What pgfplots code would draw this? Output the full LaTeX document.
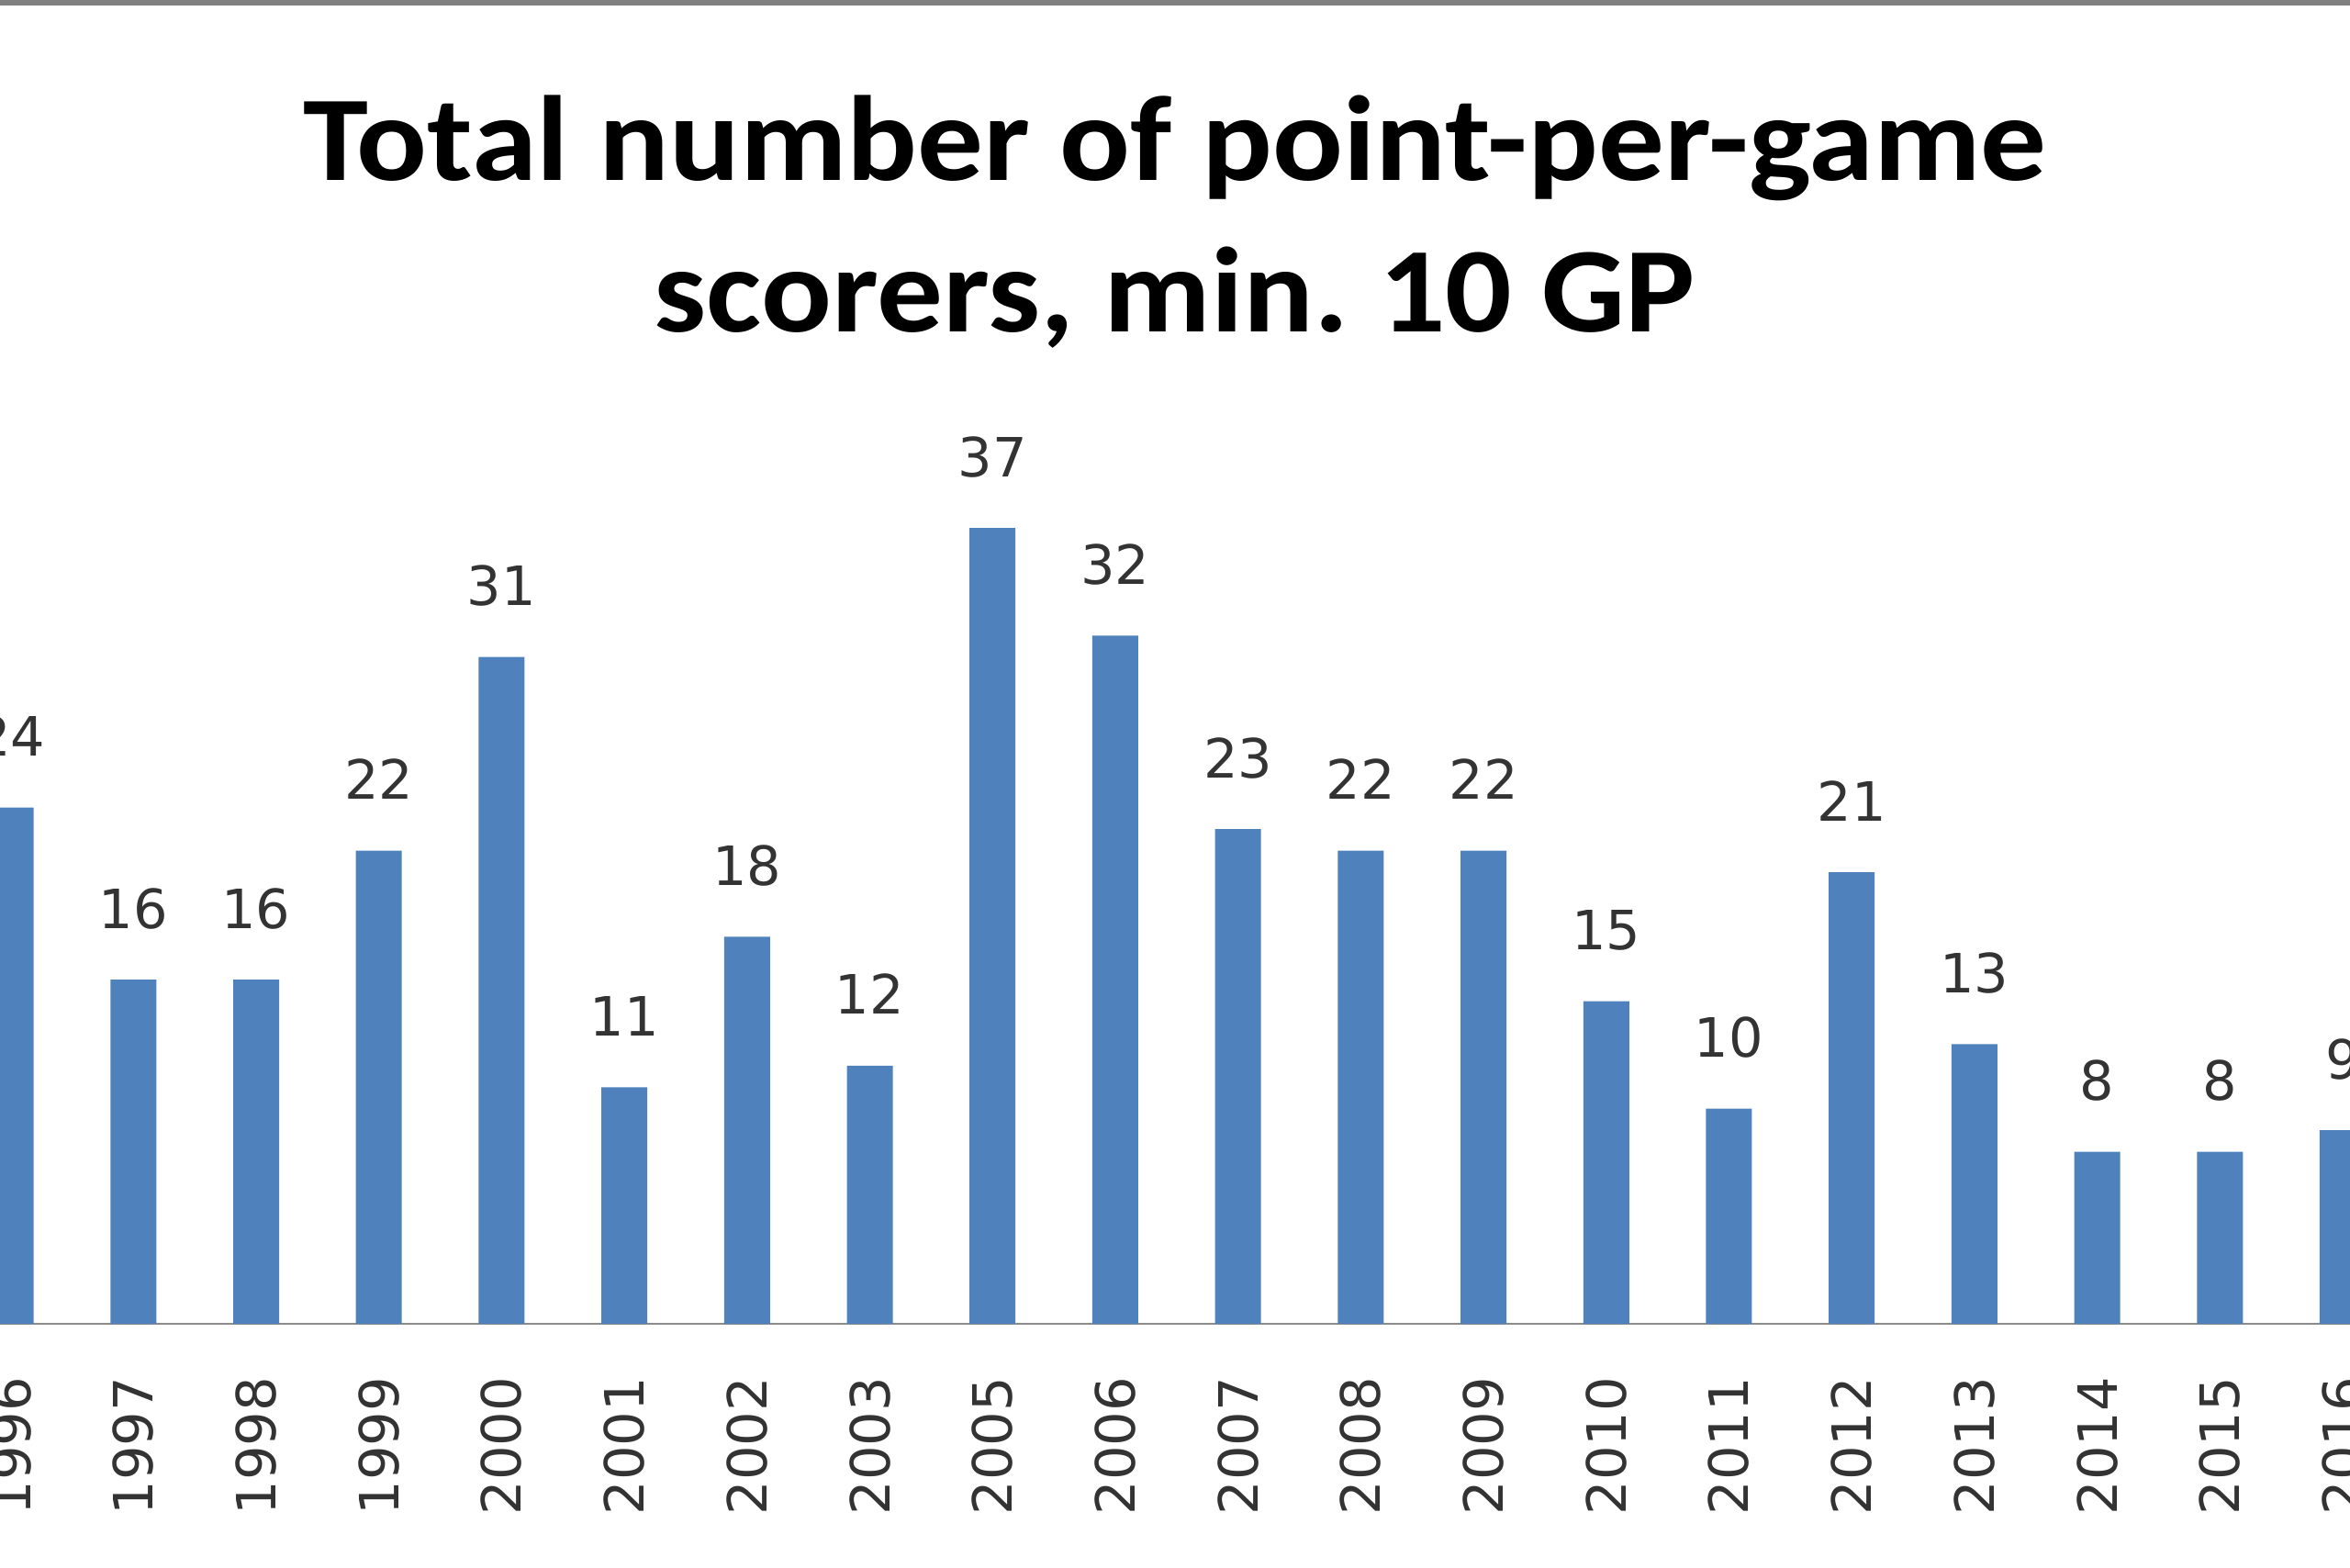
\documentclass[border=0pt]{standalone}
\usepackage{pgfplots}
\pgfplotsset{compat=1.18}
\usepackage{fontspec}
\setmainfont{DejaVu Sans}
\newfontfamily\titlefont[FakeStretch=1.085]{Carlito}
\definecolor{barblue}{HTML}{4F81BD}
\definecolor{labgray}{HTML}{333333}
\definecolor{axisgray}{HTML}{8C8C8C}
\begin{document}
\begin{tikzpicture}
\begin{axis}[
  name=ax,
  scale only axis,
  width=512pt, height=288.4pt,
  xmin=-0.0868, xmax=19.06,
  ymin=0, ymax=61.55,
  axis x line*=bottom,
  axis y line=none,
  x axis line style={color=axisgray, line width=0.5pt},
  ybar, bar width=10pt,
  xtick=data,
  xticklabels={1996,1997,1998,1999,2000,2001,2002,2003,2005,2006,2007,2008,2009,2010,2011,2012,2013,2014,2015,2016},
  major tick length=0pt,
  xticklabel style={rotate=90, anchor=east, inner sep=0pt, font=\fontsize{11.8}{14}\selectfont, text=labgray},
  xticklabel shift=11.4pt,
  nodes near coords,
  nodes near coords style={anchor=base, yshift=11.2pt, inner sep=0pt, font=\fontsize{11.8}{14}\selectfont, text=labgray},
  /pgf/number format/assume math mode=true,
]
\addplot[fill=barblue, draw=none] coordinates {
(0,24) (1,16) (2,16) (3,22) (4,31) (5,11) (6,18) (7,12) (8,37) (9,32)
(10,23) (11,22) (12,22) (13,15) (14,10) (15,21) (16,13) (17,8) (18,8) (19,9)
};
\node[anchor=base, font=\titlefont\bfseries\fontsize{26.4}{32}\selectfont] at (rel axis cs:0.5,0.864) {Total number of point-per-game};
\node[anchor=base, font=\titlefont\bfseries\fontsize{26.4}{32}\selectfont] at (rel axis cs:0.5,0.749) {scorers, min.\ 10 GP};
\draw[color=gray, line width=1.2pt] ([yshift=-0.6pt]rel axis cs:0,1) -- ([yshift=-0.6pt]rel axis cs:1,1);
\end{axis}
\pgfresetboundingbox
\path ([yshift=-53pt]ax.south west) rectangle (ax.north east);
\end{tikzpicture}
\end{document}
